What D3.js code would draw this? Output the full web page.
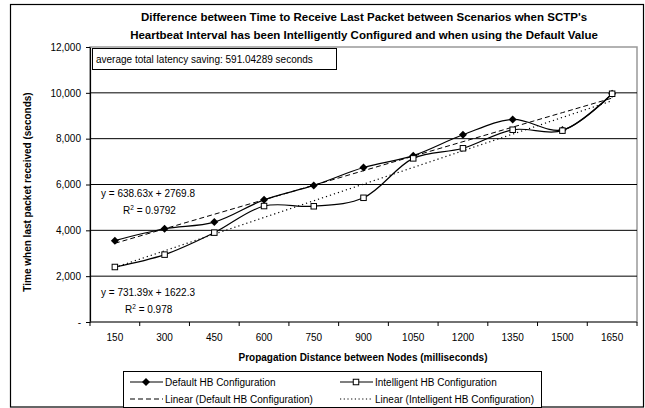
<!DOCTYPE html>
<html>
<head>
<meta charset="utf-8">
<script src="https://cdn.jsdelivr.net/npm/d3@7"></script>
<style>
  body { margin: 0; background: #fff; }
  svg { font-family: "Liberation Sans", Arial, sans-serif; }
</style>
</head>
<body>
<div id="chart"></div>
<script>
// data
var distances = ["150","300","450","600","750","900","1050","1200","1350","1500","1650"];
var defaultHB = [3550, 4070, 4360, 5330, 5960, 6740, 7260, 8170, 8840, 8380, 9960];
var intelligentHB = [2400, 2940, 3900, 5060, 5050, 5420, 7140, 7580, 8390, 8350, 9960];
var yTicks = [0, 2000, 4000, 6000, 8000, 10000, 12000];
var titleLines = ["Difference between Time to Receive Last Packet between Scenarios when SCTP's",
                  "Heartbeat Interval has been Intelligently Configured and when using the Default Value"];

var W = 645, H = 408;
var plotL = 90, plotR = 637, plotT = 47, plotB = 322;

var svg = d3.select("#chart").append("svg")
    .attr("width", W).attr("height", H);

// outer chart border
svg.append("rect")
    .attr("x", 10.5).attr("y", 4.5)
    .attr("width", 633).attr("height", 402.5)
    .attr("fill", "#fff").attr("stroke", "#000").attr("stroke-width", 1.2);

var x = d3.scaleBand().domain(distances).range([plotL, plotR]).padding(0);
var y = d3.scaleLinear().domain([0, 12000]).range([plotB, plotT]);
var cx = function(d, i){ return x(distances[i]) + x.bandwidth()/2; };

// plot area border
svg.append("rect")
    .attr("x", plotL).attr("y", plotT)
    .attr("width", plotR - plotL).attr("height", plotB - plotT)
    .attr("fill", "none").attr("stroke", "#999").attr("stroke-width", 1.5);

// gridlines
svg.append("g").selectAll("line")
    .data(yTicks.filter(function(t){ return t > 0 && t < 12000; }))
    .enter().append("line")
    .attr("x1", plotL).attr("x2", plotR)
    .attr("y1", function(d){ return y(d); }).attr("y2", function(d){ return y(d); })
    .attr("stroke", "#000").attr("stroke-width", 1);

// y axis
var yAxis = d3.axisLeft(y).tickValues(yTicks).tickSize(4).tickSizeOuter(0)
    .tickFormat(function(d){ return d === 0 ? "-" : d3.format(",")(d); });
var gy = svg.append("g").attr("transform", "translate(" + plotL + ",0)").call(yAxis);
gy.select(".domain").attr("stroke", "#000").attr("stroke-width", 1.2);
gy.selectAll(".tick line").attr("stroke", "#000");
gy.selectAll(".tick text").attr("font-size", "10px").attr("x", -9).attr("fill", "#000")
    .attr("font-family", "Liberation Sans, Arial, sans-serif");

// x axis, ticks between categories
var gx = svg.append("g").attr("transform", "translate(0," + plotB + ")");
gx.append("line").attr("x1", plotL).attr("x2", plotR).attr("stroke", "#333").attr("stroke-width", 1.2);
gx.selectAll(".tk").data(distances).enter().append("line")
    .attr("x1", function(d){ return x(d) + x.bandwidth(); })
    .attr("x2", function(d){ return x(d) + x.bandwidth(); })
    .attr("y1", 0).attr("y2", 4).attr("stroke", "#000");
gx.append("line").attr("x1", plotL).attr("x2", plotL).attr("y1", 0).attr("y2", 4).attr("stroke", "#000");
gx.selectAll("text").data(distances).enter().append("text")
    .attr("x", function(d){ return x(d) + x.bandwidth()/2; })
    .attr("y", 19)
    .attr("text-anchor", "middle").attr("font-size", "10px")
    .text(function(d){ return d; });

// trend lines, least squares on category index 1..n
function fit(vals) {
  var n = vals.length, xs = d3.range(1, n + 1);
  var mx = d3.mean(xs), my = d3.mean(vals);
  var b = d3.sum(xs, function(v, i){ return (v - mx) * (vals[i] - my); }) /
          d3.sum(xs, function(v){ return (v - mx) * (v - mx); });
  return xs.map(function(v){ return my + b * (v - mx); });
}
var line = d3.line().x(cx).y(function(d){ return y(d); });
var smooth = d3.line().x(cx).y(function(d){ return y(d); }).curve(d3.curveCatmullRom.alpha(0.5));

svg.append("path").datum(fit(defaultHB)).attr("d", line)
    .attr("fill", "none").attr("stroke", "#000").attr("stroke-width", 1)
    .attr("stroke-dasharray", "5,3");
svg.append("path").datum(fit(intelligentHB)).attr("d", line)
    .attr("fill", "none").attr("stroke", "#000").attr("stroke-width", 1.2)
    .attr("stroke-dasharray", "1.2,3");

// series
svg.append("path").datum(defaultHB).attr("d", smooth)
    .attr("fill", "none").attr("stroke", "#000").attr("stroke-width", 1.2);
svg.append("path").datum(intelligentHB).attr("d", smooth)
    .attr("fill", "none").attr("stroke", "#000").attr("stroke-width", 1.2);

// diamond = square turned 45 degrees
var diamond = d3.symbol().type(d3.symbolSquare).size(32);
svg.append("g").selectAll("path").data(defaultHB).enter().append("path")
    .attr("d", diamond)
    .attr("transform", function(d, i){ return "translate(" + cx(d, i) + "," + y(d) + ") rotate(45)"; })
    .attr("fill", "#000");
svg.append("g").selectAll("rect").data(intelligentHB).enter().append("rect")
    .attr("x", function(d, i){ return cx(d, i) - 2.75; })
    .attr("y", function(d){ return y(d) - 2.75; })
    .attr("width", 5.5).attr("height", 5.5)
    .attr("fill", "#fff").attr("stroke", "#000").attr("stroke-width", 1);

// annotation box
svg.append("rect").attr("x", 92.5).attr("y", 48.5).attr("width", 244).attr("height", 21)
    .attr("fill", "#fff").attr("stroke", "#000").attr("stroke-width", 1);
svg.append("text").attr("x", 96).attr("y", 62.5).attr("font-size", "10px")
    .text("average total latency saving: 591.04289 seconds");

// equations
function eq(xp, yp, eqText, r2, r2x) {
  svg.append("text").attr("x", xp).attr("y", yp).attr("font-size", "10px").text(eqText);
  var t = svg.append("text").attr("x", r2x).attr("y", yp + 17).attr("font-size", "10px");
  t.append("tspan").text("R");
  t.append("tspan").attr("font-size", "6.5px").attr("dy", -4).text("2");
  t.append("tspan").attr("dy", 4).text(" = " + r2);
}
eq(101, 197, "y = 638.63x + 2769.8", "0.9792", 123);
eq(101, 296, "y = 731.39x + 1622.3", "0.978", 125);

// titles
svg.selectAll(".title").data(titleLines).enter().append("text")
    .attr("x", 364).attr("y", function(d, i){ return 21 + i * 18; })
    .attr("text-anchor", "middle").attr("font-size", "11.5px").attr("font-weight", "bold")
    .text(function(d){ return d; });
svg.append("text").attr("x", 363).attr("y", 361)
    .attr("text-anchor", "middle").attr("font-size", "10px").attr("font-weight", "bold")
    .text("Propagation Distance between Nodes (milliseconds)");
svg.append("text")
    .attr("transform", "translate(31,192) rotate(-90)")
    .attr("text-anchor", "middle").attr("font-size", "10px").attr("font-weight", "bold")
    .text("Time when last packet received (seconds)");

// legend
var lg = svg.append("g");
lg.append("rect").attr("x", 123.5).attr("y", 371.5).attr("width", 418).attr("height", 36)
    .attr("fill", "#fff").attr("stroke", "#000").attr("stroke-width", 1);
var items = [
  {label: "Default HB Configuration", col: 0, row: 0, dash: null, mark: "diamond"},
  {label: "Intelligent HB Configuration", col: 1, row: 0, dash: null, mark: "square"},
  {label: "Linear (Default HB Configuration)", col: 0, row: 1, dash: "5,3", mark: null},
  {label: "Linear (Intelligent HB Configuration)", col: 1, row: 1, dash: "1.2,2.5", mark: null}
];
items.forEach(function(it){
  var x0 = it.col === 0 ? 130 : 340, yy = it.row === 0 ? 382 : 399;
  lg.append("line").attr("x1", x0).attr("x2", x0 + 33).attr("y1", yy).attr("y2", yy)
    .attr("stroke", "#000").attr("stroke-width", 1.2)
    .attr("stroke-dasharray", it.dash);
  if (it.mark === "diamond") {
    lg.append("path").attr("d", diamond).attr("transform", "translate(" + (x0 + 16) + "," + yy + ") rotate(45)")
      .attr("fill", "#000");
  } else if (it.mark === "square") {
    lg.append("rect").attr("x", x0 + 13.25).attr("y", yy - 2.75).attr("width", 5.5).attr("height", 5.5)
      .attr("fill", "#fff").attr("stroke", "#000");
  }
  lg.append("text").attr("x", x0 + 35).attr("y", yy + 3.5).attr("font-size", "10px").text(it.label);
});
</script>
</body>
</html>
